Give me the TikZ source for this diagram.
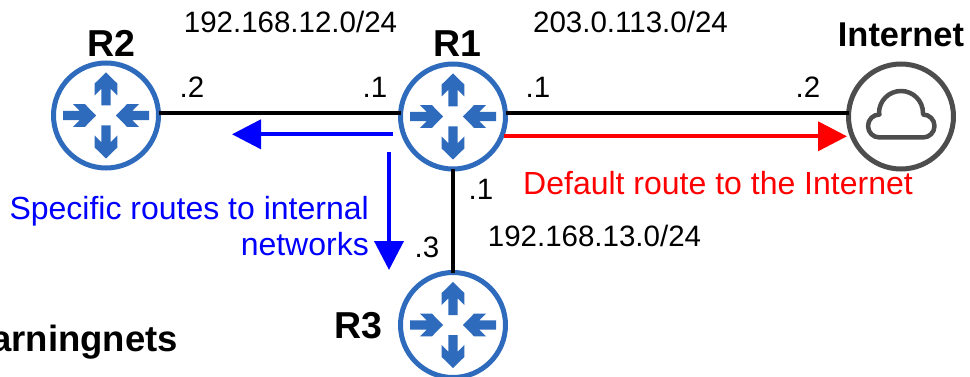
\documentclass[tikz,border=0pt]{standalone}
\usepackage{fontspec}
\setmainfont{Liberation Sans}
\usetikzlibrary{arrows.meta}
\definecolor{routerblue}{HTML}{2F6BBD}
\definecolor{cloudgrey}{HTML}{4D4D4D}
\newcommand\rtrglyph[1]{%
  \begin{scope}[shift={(#1.center)}]
    \foreach \a in {90,270}{
      \fill[routerblue,rotate=\a] (43,0) -- (32,11.3) -- (20,11.3) -- (26.7,4.7) -- (10,4.7) -- (10,-4.7) -- (26.7,-4.7) -- (20,-11.3) -- (32,-11.3) -- cycle;}
    \foreach \a in {0,180}{
      \fill[routerblue,rotate=\a] (10,0) -- (21,11.3) -- (33,11.3) -- (26.3,4.7) -- (43,4.7) -- (43,-4.7) -- (26.3,-4.7) -- (33,-11.3) -- (21,-11.3) -- cycle;}
  \end{scope}}
\tikzset{
  routerbox/.style={circle,draw=routerblue,line width=5pt,fill=white,minimum size=105pt,inner sep=0pt,outer sep=0pt},
  cloudbox/.style={circle,draw=cloudgrey,line width=5pt,fill=white,minimum size=105pt,inner sep=0pt,outer sep=0pt},
  link/.style={draw=black,line width=4pt},
  txt/.style={anchor=base,inner sep=0pt,font=\fontsize{29.5}{35}\selectfont},
  bigtxt/.style={inner sep=0pt,font=\fontsize{32}{38}\selectfont},
  devname/.style={anchor=base,inner sep=0pt,font=\fontsize{34.4}{40}\selectfont\bfseries},
  rname/.style={anchor=base,inner sep=0pt,font=\fontsize{37.5}{44}\selectfont\bfseries},
  flow/.style={line width=4pt,-{Triangle[length=29pt,width=29pt]}}
}
\begin{document}
\begin{tikzpicture}[x=1pt,y=-1pt]
\useasboundingbox (0,0) rectangle (970,377);
\node[routerbox] (r1) at (453,116.5) {};
\node[routerbox] (r2) at (106,115.5) {};
\node[routerbox] (r3) at (453,325) {};
\node[cloudbox] (inet) at (901,116.5) {};
\rtrglyph{r1}\rtrglyph{r2}\rtrglyph{r3}
\begin{scope}[shift={(inet.center)}]
\draw[cloudgrey,line width=4.5pt,line join=round] (-21.5,21) arc(90:270:11.5) -- (-22,-3.5) arc(180:360:22) -- (22,-2) arc(270:450:11.5) -- cycle;
\end{scope}
\draw[link] ([yshift=2.5pt]r2.east) -- ([yshift=3.5pt]r1.west);
\draw[link] ([yshift=3.5pt]r1.east) -- ([yshift=3.5pt]inet.west);
\draw[link] (r1.south) -- (r3.north);
\coordinate (bs) at (393,134.3);
\coordinate (be) at (232,134.3);
\coordinate (ds) at (389,152);
\coordinate (de) at (389,270);
\coordinate (rs) at (504,136.3);
\coordinate (re) at (847,136.3);
\draw[flow,blue] (bs) -- (be);
\draw[flow,blue] (ds) -- (de);
\draw[flow,red] (rs) -- (re);
\node[txt] (n1) at (290.5,33) {192.168.12.0/24};
\node[txt] (n2) at (630.5,33) {203.0.113.0/24};
\node[txt] (n3) at (594.5,247) {192.168.13.0/24};
\node[rname] (l1) at (111,57) {R2};
\node[rname] (l2) at (457.5,57) {R1};
\node[devname] (l3) at (901,47) {Internet};
\node[rname] (l4) at (358,338) {R3};
\node[txt] (a1) at (192,98) {.2};
\node[txt] (a2) at (375,98) {.1};
\node[txt] (a3) at (538,98) {.1};
\node[txt] (a4) at (808,98) {.2};
\node[txt] (a5) at (481,200) {.1};
\node[txt] (a6) at (427,257) {.3};
\node[bigtxt,anchor=base,text=red] (d) at (718,195) {Default route to the Internet};
\node[bigtxt,text=blue,anchor=base east] (s1) at (369,219) {Specific routes to internal};
\node[bigtxt,text=blue,anchor=base east] (s2) at (369,255) {networks};
\node[rname,font=\fontsize{36.5}{44}\selectfont\bfseries,anchor=base east] (w) at (178,351) {arningnets};
\end{tikzpicture}
\end{document}
